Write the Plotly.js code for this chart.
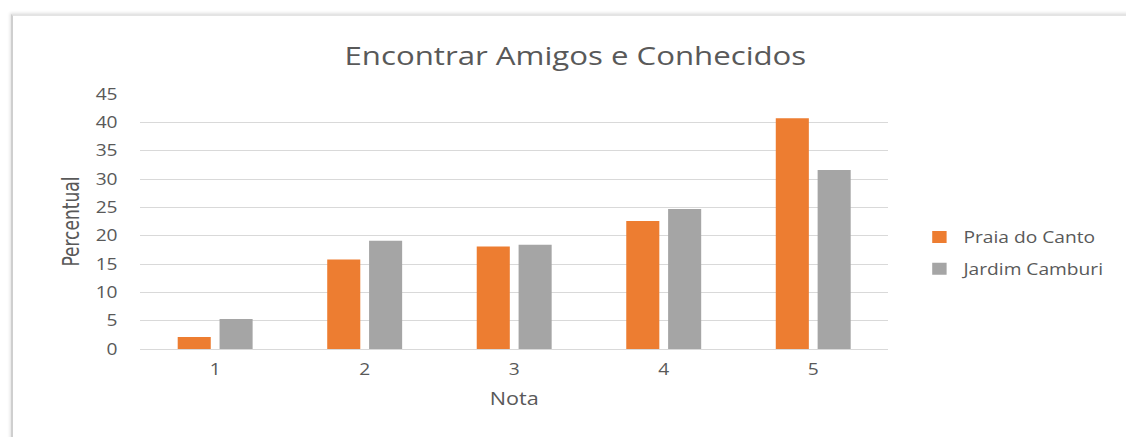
<!DOCTYPE html>
<html>
<head>
<meta charset="utf-8">
<script src="https://cdn.plot.ly/plotly-3.0.1.min.js"></script>
<style>
  html, body { margin: 0; padding: 0; background: #ffffff; }
  #wrap { position: relative; width: 1126px; height: 437px; overflow: hidden; }
  #frame { position: absolute; left: 11px; top: 14px; right: -10px; bottom: -10px;
           border-left: 2px solid #cfcfcf; border-top: 2px solid #e4e4e4;
           box-shadow: -1px -1px 3px rgba(0,0,0,0.12); background: #fff; }
  #chart { position: absolute; left: 0; top: 0; transform-origin: 0 0; }
</style>
</head>
<body>
<div id="wrap">
  <div id="frame"></div>
  <div id="chart"></div>
</div>
<script>
const categories = ["1", "2", "3", "4", "5"];
const praiaDoCanto = [2.1, 15.8, 18.1, 22.6, 40.7];
const jardimCamburi = [5.3, 19.1, 18.4, 24.7, 31.6];
const seriesNames = ["Praia do Canto", "Jardim Camburi"];
const yTicks = [0, 5, 10, 15, 20, 25, 30, 35, 40, 45];
const chartTitle = "Encontrar Amigos e Conhecidos";
const xTitle = "Nota";
const yTitle = "Percentual";

// the reference picture is stretched horizontally; reproduce that stretch
const stretch = 1.2;
const W = 1126 / stretch;
document.getElementById("chart").style.transform = "scaleX(" + stretch + ")";

const textColor = "#595959";
const mainFont = "Open Sans, Noto Sans, sans-serif";

const traces = [
  { type: "bar", x: categories, y: praiaDoCanto, name: seriesNames[0],
    marker: { color: "#ED7D31" }, legendgroup: "a", hoverinfo: "x+y+name" },
  { type: "bar", x: categories, y: jardimCamburi, name: seriesNames[1],
    marker: { color: "#A5A5A5" }, legendgroup: "b", hoverinfo: "x+y+name" }
];

const layout = {
  width: W, height: 437,
  margin: { l: 140 / stretch, r: 236 / stretch, t: 94, b: 88 },
  paper_bgcolor: "rgba(0,0,0,0)",
  plot_bgcolor: "rgba(0,0,0,0)",
  barmode: "group",
  bargap: 0.44,
  bargroupgap: 0.21,
  font: { family: mainFont, color: textColor, size: 16 },
  title: {
    text: chartTitle,
    font: { family: mainFont, size: 26, color: textColor },
    x: 0.511, xref: "container", xanchor: "center",
    y: 1 - 56 / 437, yref: "container", yanchor: "middle"
  },
  xaxis: {
    type: "category",
    tickvals: categories,
    showgrid: false,
    showline: true, linecolor: "#d9d9d9", linewidth: 1,
    ticks: "", ticklabelstandoff: 6,
    tickfont: { family: mainFont, size: 16, color: textColor },
    title: { text: xTitle, font: { family: mainFont, size: 18, color: textColor }, standoff: 13 }
  },
  yaxis: {
    range: [0, 45],
    tickvals: yTicks,
    showgrid: true, gridcolor: "#d9d9d9", gridwidth: 1,
    zeroline: false,
    showline: false,
    ticks: "", ticklabelstandoff: 18,
    tickfont: { family: mainFont, size: 16, color: textColor },
    title: { text: yTitle, font: { family: "Liberation Sans Narrow, DejaVu Sans Condensed, sans-serif", size: 19, color: textColor }, standoff: 8 }
  },
  legend: {
    x: 1.035, xanchor: "left",
    y: 0.376, yanchor: "middle",
    font: { family: mainFont, size: 16, color: textColor },
    tracegroupgap: 8,
    bgcolor: "rgba(0,0,0,0)"
  },
  showlegend: true
};

Plotly.newPlot("chart", traces, layout, { displayModeBar: false, staticPlot: true });
</script>
</body>
</html>
